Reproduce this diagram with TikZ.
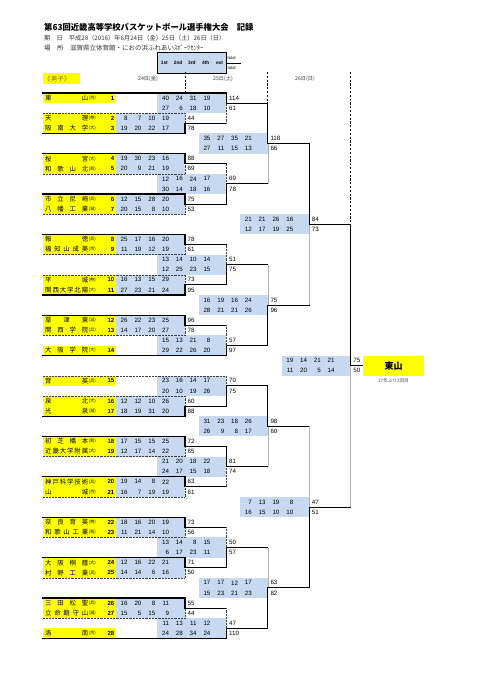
\documentclass[tikz,border=0pt]{standalone}
\usepackage{fontspec}
\setmainfont{Liberation Sans}
\newfontfamily\jp{Noto Sans CJK JP}
\usetikzlibrary{positioning}
\definecolor{KBYellow}{HTML}{FFFF00}
\definecolor{KBCell}{HTML}{C6D9F0}
\definecolor{KBText}{HTML}{333333}
\definecolor{KBBoys}{HTML}{9C6500}
% top edge of bracket row #1
\newcommand\Y[1]{93+10.1*(#1)}
% spread the characters of a name over its box
\def\spreadA#1{\ifx\relax#1\else#1\expandafter\spreadB\fi}
\def\spreadB#1{\ifx\relax#1\else\hfill#1\expandafter\spreadB\fi}

\begin{document}
\begin{tikzpicture}[x=1pt,y=-1pt,
  info/.style={anchor=west,inner sep=0pt,text=KBText,font=\jp\fontsize{6.2}{7}\selectfont},
  head/.style={inner sep=0pt,font=\bfseries\fontsize{4.8}{5}\selectfont},
  tot/.style={anchor=west,inner sep=0pt,font=\fontsize{4.2}{5}\selectfont},
  day/.style={inner sep=0pt,text=KBText,font=\jp\fontsize{5.2}{6}\selectfont},
  score/.style={anchor=east,inner sep=0pt,font=\fontsize{6.2}{7}\selectfont},
  total/.style={anchor=west,inner sep=0pt,font=\fontsize{6.2}{7}\selectfont},
  tname/.style={anchor=west,inner sep=0pt,font=\jp\fontsize{6.4}{7}\selectfont},
  tpref/.style={anchor=west,inner sep=0pt,font=\jp\fontsize{4.3}{5}\selectfont},
  tnum/.style={anchor=east,inner sep=0pt,font=\bfseries\fontsize{6}{7}\selectfont},
  win/.style={line width=1.1pt,line cap=rect},
  lose/.style={line width=0.45pt,black!75,densely dotted},
  lostpath/.style={line width=0.5pt,black!30},
  daysep/.style={line width=0.7pt,dash pattern=on 2.2pt off 1.6pt},
]
\useasboundingbox (0,0) rectangle (481,680);

% heading
\node[anchor=west,inner sep=0pt,font=\jp\bfseries\fontsize{8.3}{9}\selectfont] (title) at (44,27) {第63回近畿高等学校バスケットボール選手権大会　記録};
\node[info] (date) at (44,38) {期　日　平成28（2016）年6月24日（金）25日（土）26日（日）};
\node[info,font=\jp\fontsize{6.5}{7}\selectfont] (place) at (44,48.5) {場　所　滋賀県立体育館・におの浜ふれあいｽﾎﾟｰﾂｾﾝﾀｰ};

% quarter header
\fill[KBCell] (157.4,52) rectangle (226.4,73);
\draw[line width=0.6pt] (157.4,52) rectangle (226.4,73);
\foreach \h [count=\i] in {1st,2nd,3rd,4th,ext}
  \node[head] (h\i) at ({157.4+13.8*(\i-0.5)},63) {\h};
\node[tot] (tot1) at (227.5,58) {total};
\node[tot] (tot2) at (227.5,68) {total};
\draw[line width=0.4pt] (226.4,63) -- (241,63);

\fill[KBYellow] (43,73) rectangle (80,84);
\node[anchor=west,inner sep=0pt,text=KBBoys,font=\jp\fontsize{6.6}{7}\selectfont] (boys) at (44,78.5) {《男子》};
\node[day] (d24) at (148,79) {24日(金)};
\node[day] (d25) at (223,79) {25日(土)};
\node[day] (d26) at (305,79) {26日(日)};
\draw[daysep] (185,72) -- (185,{\Y{0}});
\draw[daysep] (267.8,72) -- (267.8,{\Y{1}});
\draw[daysep] (350.6,72) -- (350.6,{\Y{13}});

% quarter scores: round/row/1st/2nd/3rd/4th/total
\foreach \rd/\rw/\qa/\qb/\qc/\qd/\pts in {
  2/0/40/24/31/19/114, 2/1/27/6/18/10/61, 1/2/8/7/10/19/44, 1/3/19/20/22/17/78,
  3/4/35/27/35/21/118, 3/5/27/11/15/13/66, 1/6/19/30/23/16/88, 1/7/20/9/21/19/69,
  2/8/12/16/24/17/69, 2/9/30/14/18/16/78, 1/10/12/15/28/20/75, 1/11/20/15/8/10/53,
  4/12/21/21/26/16/84, 4/13/12/17/19/25/73, 1/14/25/17/16/20/78, 1/15/11/19/12/19/61,
  2/16/13/14/10/14/51, 2/17/12/25/23/15/75, 1/18/16/13/15/29/73, 1/19/27/23/21/24/95,
  3/20/16/19/16/24/75, 3/21/28/21/21/26/96, 1/22/26/22/23/25/96, 1/23/14/17/20/27/78,
  2/24/15/13/21/8/57, 2/25/29/22/26/20/97, 5/26/19/14/21/21/75, 5/27/11/20/5/14/50,
  2/28/23/16/14/17/70, 2/29/20/10/19/26/75, 1/30/12/12/10/26/60, 1/31/18/19/31/20/88,
  3/32/31/23/18/26/98, 3/33/26/9/8/17/60, 1/34/17/15/15/25/72, 1/35/12/17/14/22/65,
  2/36/21/20/18/22/81, 2/37/24/17/15/18/74, 1/38/19/14/8/22/63, 1/39/16/7/19/19/61,
  4/40/7/13/19/8/47, 4/41/16/15/10/10/51, 1/42/18/16/20/19/73, 1/43/11/21/14/10/56,
  2/44/13/14/8/15/50, 2/45/6/17/23/11/57, 1/46/12/16/22/21/71, 1/47/14/14/6/16/50,
  3/48/17/17/12/17/63, 3/49/15/23/21/23/82, 1/50/16/20/8/11/55, 1/51/15/5/15/9/44,
  2/52/11/13/11/12/47, 2/53/24/28/34/24/110}{
  \pgfmathsetmacro\bl{116+41.4*(\rd-1)}
  \fill[KBCell] (\bl,{\Y{\rw}}) rectangle ++(69,10.1);
  \foreach \v [count=\i] in {\qa,\qb,\qc,\qd}
    \node[score] (q\rw-\i) at ({\bl+13.8*\i-2},{\Y{\rw+0.5}}) {\v};
  \node[total] (pts\rw) at ({\bl+71.5},{\Y{\rw+0.5}}) {\pts};
}

% teams: row/name/prefecture/number
\foreach \rw/\nm/\pf/\tn in {
  0/東山/京/1, 2/天理/奈/2, 3/阪南大学/大/3, 6/桜宮/大/4, 7/和歌山北/和/5,
  10/市立尼崎/兵/6, 11/八幡工業/滋/7, 14/報徳/兵/8, 15/福知山成美/京/9,
  18/平城/奈/10, 19/関西大学北陽/大/11, 22/草津東/滋/12, 23/関西学院/兵/13,
  25/大阪学院/大/14, 28/育英/兵/15, 30/泉北/大/16, 31/光泉/滋/17,
  34/初芝橋本/和/18, 35/近畿大学附属/大/19, 38/神戸科学技術/兵/20, 39/山城/京/21,
  42/奈良育英/奈/22, 43/和歌山工業/和/23, 46/大阪桐蔭/大/24, 47/村野工業/兵/25,
  50/三田松聖/兵/26, 51/立命館守山/滋/27, 53/洛南/京/28}{
  \fill[KBYellow] (43,{\Y{\rw}}) rectangle (116,{\Y{\rw+1}});
  \node[tname] (team\tn) at (45,{\Y{\rw+0.5}}) {\makebox[43pt][s]{\expandafter\spreadA\nm\relax}};
  \node[tpref] (pref\tn) at (88.5,{\Y{\rw+0.5}}) {(\pf)};
  \node[tnum] (num\tn) at (114.5,{\Y{\rw+0.5}}) {\tn};
}

% first round: winner/loser/result edge
\foreach \wb/\lb/\ob in {4/2/3, 6/8/7, 10/12/11, 14/16/15, 20/18/19, 22/24/23,
  32/30/31, 34/36/35, 38/40/39, 42/44/43, 46/48/47, 50/52/51}{
  \draw[lose] (43,{\Y{\lb}}) -- (185,{\Y{\lb}}) -- (185,{\Y{\ob}});
  \draw[win] (43,{\Y{\wb}}) -- (185,{\Y{\wb}}) -- (185,{\Y{\ob}}) -- (226.4,{\Y{\ob}});
}
% seeded teams
\draw[win] (43,{\Y{0}}) -- (226.4,{\Y{0}});
\draw[win] (43,{\Y{26}}) -- (226.4,{\Y{26}});
\draw[lose] (43,{\Y{28}}) -- (226.4,{\Y{28}});
\draw[win] (43,{\Y{54}}) -- (226.4,{\Y{54}});

% second round
\foreach \wb/\lb/\ob in {0/3/1, 11/7/9, 19/15/17, 26/23/25, 31/28/29, 35/39/37, 47/43/45, 54/51/53}{
  \draw[lose] (226.4,{\Y{\lb}}) -- (226.4,{\Y{\ob}});
  \draw[win] (226.4,{\Y{\wb}}) -- (226.4,{\Y{\ob}}) -- (267.8,{\Y{\ob}});
}

% later rounds
\foreach \vx/\nx/\wb/\lb/\ob in {267.8/309.2/1/9/5, 267.8/309.2/25/17/21,
  267.8/309.2/29/37/33, 267.8/309.2/53/45/49, 309.2/350.6/5/21/13,
  309.2/350.6/49/33/41, 350.6/363/13/41/27}{
  \draw[lostpath] (\vx,{\Y{\lb}}) -- (\vx,{\Y{\ob}});
  \draw[win] (\vx,{\Y{\wb}}) -- (\vx,{\Y{\ob}}) -- (\nx,{\Y{\ob}});
}

% champion
\node[fill=KBYellow,minimum width=61pt,minimum height=20pt,inner sep=0pt,
  font=\jp\bfseries\fontsize{9}{10}\selectfont] (champ) at (393.5,{\Y{27}}) {東山};
\node[inner sep=0pt,text=black!70,font=\jp\fontsize{4.6}{5}\selectfont,below=3pt of champ] (champnote) {17年ぶり2回目};
\end{tikzpicture}
\end{document}
